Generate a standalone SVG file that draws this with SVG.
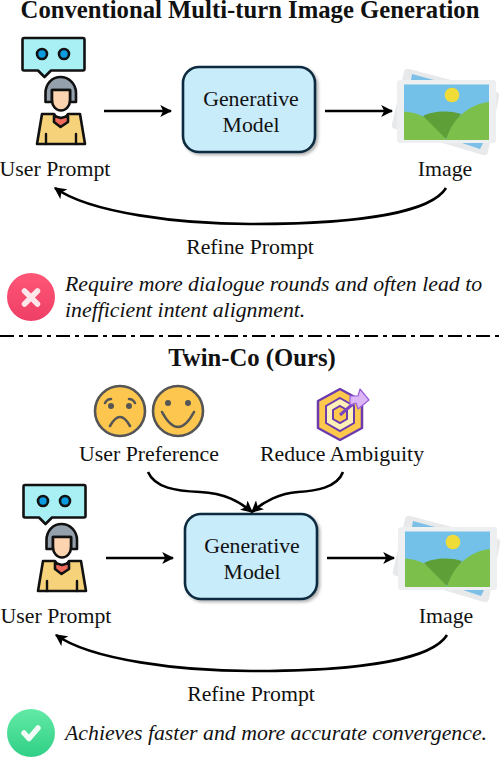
<svg xmlns="http://www.w3.org/2000/svg" width="504" height="758" viewBox="0 0 504 758">
<style>
text{font-family:"Liberation Serif","Times New Roman",serif;fill:#111;font-size:21.800px;text-anchor:middle}
.t{font-weight:bold;font-size:24.700px}
.n{font-style:italic;text-anchor:start;font-size:21.800px}
.k{fill:none;stroke:#111;stroke-width:2.400;stroke-linecap:round;stroke-linejoin:round}
.c{fill:none;stroke:#000;stroke-width:2.600}
.o{stroke:#111;stroke-width:2.600;stroke-linejoin:round}
.box{fill:#c9ecfb;stroke:#0d2c3f;stroke-width:2.600}
</style>
<defs>
<marker id="a" viewBox="0 0 10 10" refX="9" refY="5" markerWidth="12" markerHeight="12" markerUnits="userSpaceOnUse" orient="auto"><path d="M0 0L10 5L0 10L2.500 5Z" fill="#000"/></marker>
<filter id="s" x="-10%" y="-10%" width="125%" height="125%"><feDropShadow dx="2" dy="2" stdDeviation="1.600" flood-color="#000" flood-opacity=".3"/></filter>
<linearGradient id="r" x1="0" y1="0" x2="0" y2="1"><stop offset="0" stop-color="#ff5676"/><stop offset="1" stop-color="#ee3f66"/></linearGradient>
<linearGradient id="g" x1="0" y1="0" x2="0" y2="1"><stop offset="0" stop-color="#62eaa6"/><stop offset="1" stop-color="#30cf85"/></linearGradient>
<g id="user">
<path class="o" fill="#a9f0f4" d="M24 38H83Q84.500 38 84.500 40V69Q84.500 70.500 83 70.500H51L44.500 77L38 70.500H24Q22.500 70.500 22.500 69V40Q22.500 38 24 38Z"/>
<circle class="o" cx="42" cy="54" r="5" fill="#0a9be0"/><circle class="o" cx="64" cy="54" r="5" fill="#0a9be0"/>
<path class="o" fill="#f6d27a" d="M42 114L54 114L61 124L68 114L80 114L85 144H37Z"/>
<path class="o" fill="#f06a5c" d="M54 116L61 118L68 116L68 122L60.500 127L54 122Z"/>
<path class="k" d="M46 134V144M76 134V144"/>
<path class="o" fill="#95a0ad" d="M45.500 102V93C45.500 84 52 77 60.500 77C69 77 76 84 76 93V102H70V90H52V102Z"/>
<path class="o" fill="#fdd4b0" d="M52 90H70V100C70 106 66 110.500 61 110.500C56 110.500 52 106 52 100Z"/>
</g>
<g id="pic">
<path fill="#e8e9eb" d="M409 69L497 92Q500 93 499 97L488 152Q487 156 483 155L395 129Q391 128 392 124L404 72Q405 68 409 69Z"/>
<path fill="#7cc0e8" d="M412 74L434 80H411ZM462 143H483L480 149Z"/>
<rect x="397" y="80" width="99" height="63" rx="3" fill="#eeeff1"/>
<rect x="404" y="84.500" width="85" height="55.500" fill="#73c1e8"/>
<circle cx="452" cy="95" r="7.300" fill="#f0dc38"/>
<path fill="#7cbf4a" d="M404 111.500C424 113 438 124 446 140H404Z"/>
<path fill="#5e9f38" d="M423 116C432 111 449 110 461 114L446 139Z"/>
<path fill="#7cbf4a" d="M489 102C470 104 452 118 446 140H489Z"/>
</g>
</defs>

<text class="t" x="250" y="18" id="title1">Conventional Multi-turn Image Generation</text>

<g id="user1"><use href="#user"/><text x="55" y="176">User Prompt</text></g>
<g id="model1"><rect class="box" x="183" y="67" width="132" height="85" rx="16" filter="url(#s)"/><text x="251" y="106">Generative</text><text x="251" y="132">Model</text></g>
<g id="image1"><use href="#pic"/><text x="445" y="176">Image</text></g>
<g id="refine1"><text x="250" y="254">Refine Prompt</text></g>

<g id="note1"><circle cx="31" cy="297" r="24" fill="url(#r)"/><path d="M24.500 291L37.500 304M37.500 291L24.500 304" stroke="#ffe6ea" stroke-width="5.500" stroke-linecap="round"/>
<text class="n" x="65" y="291">Require more dialogue rounds and often lead to</text><text class="n" x="65" y="317">inefficient intent alignment.</text></g>

<path id="divider" d="M0 336H504" stroke="#000" stroke-width="2" stroke-dasharray="14 5 4 5" fill="none"/>

<text class="t" x="252" y="366" id="title2">Twin-Co (Ours)</text>

<g id="pref"><g stroke="#555" stroke-width="2.600" fill="#fdc74f"><circle cx="120" cy="411" r="25"/><circle cx="178" cy="411" r="25"/></g>
<g fill="#555"><circle cx="111" cy="406" r="3"/><circle cx="129" cy="406" r="3"/><circle cx="168" cy="403" r="3"/><circle cx="188" cy="403" r="3"/></g>
<path d="M110 426Q120 408 130 426M105 403Q107 399 111 399M129 399Q133 399 135 403M162 412Q178 442 194 412" fill="none" stroke="#555" stroke-width="2.600" stroke-linecap="round"/>
<text x="149" y="461">User Preference</text></g>

<g id="target"><path d="M340 389L362 401V428L340 440L318 428V401Z" fill="#fdc84c" stroke="#6b3bb0" stroke-width="2.500" stroke-linejoin="round"/>
<path d="M340 398L354 406V423L340 431L326 423V406Z" fill="#fff0b8" stroke="#6b3bb0" stroke-width="2"/>
<path d="M340 406L347 410V419L340 423L333 419V410Z" fill="#fdc84c" stroke="#6b3bb0" stroke-width="2"/>
<path d="M340 415L354 403" stroke="#7a45c0" stroke-width="3"/>
<path d="M350 396L358 396L360 389L369 400L358 409L356 403L350 405Z" fill="#dcb6f5" stroke="#9a60dc" stroke-width="1.200" stroke-linejoin="round"/>
<text x="342" y="461">Reduce Ambiguity</text></g>

<g id="user2"><use href="#user" x="1" y="447"/><text x="56" y="623">User Prompt</text></g>
<g id="model2"><rect class="box" x="185" y="514" width="132" height="85" rx="16" filter="url(#s)"/><text x="252" y="553">Generative</text><text x="252" y="579">Model</text></g>
<g id="image2"><use href="#pic" x="1" y="447"/><text x="446" y="623">Image</text></g>
<g id="refine2"><text x="251" y="701">Refine Prompt</text></g>

<g id="note2"><circle cx="31" cy="733" r="24" fill="url(#g)"/><path d="M24 733L29 738.500L38 728" fill="none" stroke="#f2fbf6" stroke-width="5.500" stroke-linecap="round" stroke-linejoin="round"/>
<text class="n" x="65" y="740">Achieves faster and more accurate convergence.</text></g>

<g id="connectors">
<path class="c" d="M104 111H171" marker-end="url(#a)"/>
<path class="c" d="M325 111H392" marker-end="url(#a)"/>
<path class="c" d="M446 188C425 222 300 224 250 224C180 224 90 213 55 188" marker-end="url(#a)"/>
<path class="c" d="M106 558H173" marker-end="url(#a)"/>
<path class="c" d="M327 558H394" marker-end="url(#a)"/>
<path class="c" d="M447 635C426 669 301 671 251 671C181 671 91 660 56 635" marker-end="url(#a)"/>
<path class="c" d="M148 472C155 488 176 491 200 492C225 493 240 502 252 512" marker-end="url(#a)"/>
<path class="c" d="M343 472C337 488 315 491 298 492C280 493 263 502 252 512" marker-end="url(#a)"/>
</g>
</svg>
